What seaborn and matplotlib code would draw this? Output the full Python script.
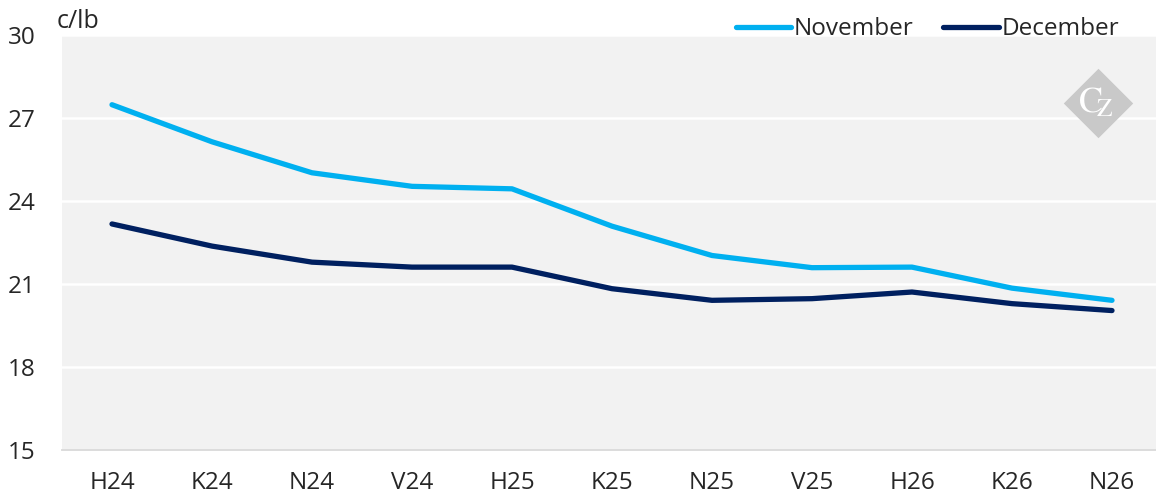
import pandas as pd
import numpy as np
import matplotlib
matplotlib.use('Agg')
import matplotlib.pyplot as plt
import seaborn as sns

contracts = ['H24', 'K24', 'N24', 'V24', 'H25', 'K25', 'N25', 'V25', 'H26', 'K26', 'N26']
november = [27.48, 26.14, 25.02, 24.53, 24.44, 23.09, 22.03, 21.59, 21.61, 20.85, 20.41]
december = [23.17, 22.37, 21.79, 21.61, 21.61, 20.83, 20.41, 20.47, 20.71, 20.29, 20.04]
yticks = [15, 18, 21, 24, 27, 30]

sns.set_style('white')
plt.rcParams['font.family'] = ['Open Sans', 'DejaVu Sans']

df = pd.DataFrame({'contract': contracts * 2,
                   'x': list(range(len(contracts))) * 2,
                   'price': november + december,
                   'series': ['November'] * len(contracts) + ['December'] * len(contracts)})

fig = plt.figure(figsize=(11.56, 4.98), dpi=100)
ax = fig.add_axes([62 / 1156, 1 - 450 / 498, 1 - 62 / 1156, (450 - 35) / 498])
ax.set_facecolor('#F2F2F2')

sns.lineplot(data=df, x='x', y='price', hue='series',
             palette={'November': '#00B0F0', 'December': '#002060'},
             linewidth=3.8, solid_capstyle='round', ax=ax)

ax.set_xlim(-0.5, 10.44)
ax.set_ylim(15, 30)
ax.set_yticks(yticks)
ax.set_xticks(range(len(contracts)))
ax.set_xticklabels(contracts)
ax.grid(axis='y', color='white', linewidth=1.8)
ax.set_axisbelow(True)
for s in ax.spines.values():
    s.set_visible(False)
ax.spines['bottom'].set_visible(True)
ax.spines['bottom'].set_color('#D9D9D9')
ax.spines['bottom'].set_linewidth(1.3)
ax.tick_params(axis='y', labelsize=17.5, pad=19, length=0)
ax.tick_params(axis='x', labelsize=17.5, pad=15, length=0)
ax.set_xlabel('')
ax.set_ylabel('')

fig.text(57 / 1156, 1 - 22 / 498, 'c/lb', fontsize=18, va='center', ha='left')

leg = ax.legend(loc='lower right', bbox_to_anchor=(0.966, 0.985), ncol=2, frameon=False,
                fontsize=17.5, handlelength=2.3, handletextpad=0.1, columnspacing=1.2,
                borderaxespad=0, borderpad=0)

# watermark logo
ax.scatter([0.947], [0.836], marker='D', s=1250, color='#C9C9C9', transform=ax.transAxes,
           zorder=1, linewidths=0)
ax.text(0.945, 0.835, r'$\mathrm{C}_{\!\!\mathrm{Z}}$', transform=ax.transAxes, color='white',
        fontsize=26, math_fontfamily='stix', ha='center', va='center', zorder=2)

fig.savefig('out.png', dpi=100)
